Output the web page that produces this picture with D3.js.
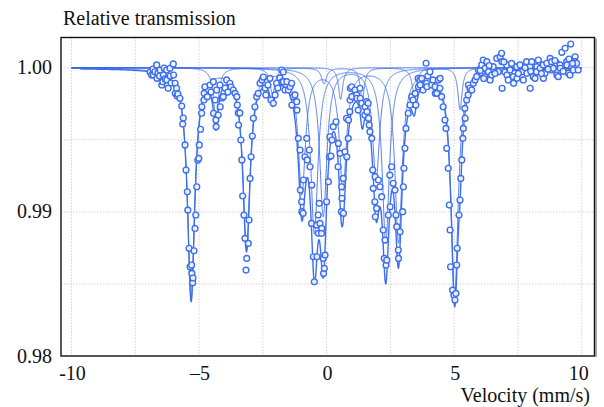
<!DOCTYPE html>
<html><head><meta charset="utf-8">
<script src="https://cdn.jsdelivr.net/npm/d3@7"></script>
<style>html,body{margin:0;padding:0;background:#fff}svg{display:block}
text{font-family:"Liberation Serif","Times New Roman",Times,Tinos,"Nimbus Roman","Nimbus Roman No9 L","FreeSerif","DejaVu Serif","Noto Serif",serif;font-size:20px;fill:#111}</style>
</head><body>
<svg id="chart" width="604" height="407"></svg>
<script>
// measured spectrum: [velocity (mm/s), relative transmission]
const measured = [
[-6.92,0.99970],[-6.86,0.99949],[-6.81,0.99991],[-6.79,0.99949],[-6.73,0.99972],[-6.66,1.00019],[-6.65,0.99926],[-6.61,0.99963],
[-6.53,0.99984],[-6.55,0.99942],[-6.46,0.99880],[-6.42,0.99903],[-6.40,0.99949],[-6.37,0.99998],[-6.33,0.99922],[-6.27,0.99984],
[-6.26,0.99915],[-6.21,0.99857],[-6.14,0.99996],[-6.13,0.99942],[-6.10,0.99894],[-6.01,1.00026],[-6.00,0.99949],[-5.94,0.99892],
[-5.93,0.99822],[-5.88,0.99857],[-5.86,0.99804],[-5.83,0.99818],[-5.75,0.99788],[-5.68,0.99734],[-5.64,0.99609],[-5.62,0.99651],
[-5.55,0.99464],[-5.51,0.99290],[-5.46,0.99139],[-5.44,0.99012],[-5.39,0.98747],[-5.35,0.98619],[-5.29,0.98631],[-5.28,0.98573],
[-5.25,0.98508],[-5.24,0.98541],[-5.20,0.98730],[-5.16,0.98885],[-5.13,0.98978],[-5.09,0.99174],[-5.05,0.99359],[-5.01,0.99371],
[-4.99,0.99464],[-4.94,0.99573],[-4.90,0.99684],[-4.89,0.99729],[-4.81,0.99776],[-4.80,0.99822],[-4.77,0.99868],
[-4.68,0.99799],[-4.57,0.99880],[-4.53,0.99831],[-4.44,0.99903],[-4.43,0.99684],[-4.37,0.99776],[-4.34,0.99637],[-4.33,0.99591],
[-4.31,0.99845],[-4.25,0.99672],[-4.18,0.99880],[-4.17,0.99729],[-4.10,0.99790],[-4.05,0.99799],[-3.98,0.99859],[-3.92,0.99915],
[-3.87,0.99831],[-3.79,0.99892],[-3.75,0.99866],[-3.66,0.99845],[-3.59,0.99822],[-3.52,0.99799],[-3.50,0.99741],[-3.46,0.99686],
[-3.45,0.99602],[-3.40,0.99686],
[-3.36,0.99498],[-3.32,0.99360],[-3.29,0.99110],[-3.24,0.98978],[-3.20,0.98816],[-3.16,0.98596],[-3.13,0.98677],[-3.07,0.98781],
[-3.04,0.98943],[-3.00,0.99232],[-2.96,0.99382],[-2.91,0.99526],[-2.87,0.99649],[-2.81,0.99729],
[-2.74,0.99799],[-2.68,0.99822],[-2.61,0.99892],[-2.53,0.99915],[-2.48,0.99935],[-2.41,0.99859],[-2.38,0.99811],[-2.30,0.99880],
[-2.22,0.99926],[-2.18,0.99776],[-2.09,0.99753],[-2.02,0.99811],[-1.96,0.99892],[-1.91,0.99859],[-1.83,0.99929],[-1.76,0.99984],
[-1.75,0.99901],[-1.70,0.99970],[-1.69,0.99903],[-1.63,0.99845],[-1.56,0.99903],[-1.50,0.99845],[-1.43,0.99868],[-1.37,0.99892],
[-1.36,0.99741],[-1.31,0.99799],[-1.24,0.99811],[-1.17,0.99764],[-1.16,0.99706],
[-1.11,0.99510],[-1.04,0.99429],[-1.03,0.99151],[-0.98,0.99070],[-0.97,0.99001],[-0.91,0.99221],[-0.92,0.98990],[-0.85,0.99382],
[-0.78,0.99510],[-0.76,0.99360],[-0.68,0.99429],[-0.65,0.99313],[-0.58,0.99186],[-0.59,0.98920],[-0.52,0.98688],[-0.48,0.98515],
[-0.39,0.98908],[-0.38,0.98688],[-0.33,0.98978],[-0.32,0.98851],[-0.29,0.99059],[-0.26,0.98920],[-0.19,0.98885],[-0.20,0.98851],
[-0.13,0.98677],[-0.12,0.98573],[-0.09,0.98608],[-0.06,0.98700],[0.00,0.99070],[0.07,0.99209],[0.11,0.99382],[0.17,0.99387],
[0.13,0.99521],[0.21,0.99498],[0.26,0.99591],[0.37,0.99625],[0.46,0.99475],[0.45,0.99313],[0.53,0.99406],[0.59,0.99174],
[0.60,0.99094],[0.58,0.99001],[0.65,0.99232],[0.66,0.98990],[0.72,0.99417],[0.79,0.99382],[0.78,0.99649],[0.85,0.99510],
[0.86,0.99637],[0.92,0.99776],[0.91,0.99695],[0.93,0.99857],[0.98,0.99868],[0.99,0.99799],[1.11,0.99845],[1.18,0.99811],
[1.19,0.99788],[1.24,0.99706],[1.31,0.99857],[1.32,0.99788],[1.38,0.99753],[1.51,0.99729],[1.50,0.99672],[1.57,0.99764],
[1.58,0.99695],[1.63,0.99753],[1.64,0.99649],[1.67,0.99602],[1.70,0.99556],[1.77,0.99510],
[1.81,0.99290],[1.83,0.99163],[1.90,0.99244],[1.89,0.99070],[1.91,0.98966],[1.96,0.99024],[2.03,0.99221],[2.09,0.99174],
[2.16,0.99105],[2.22,0.98874],[2.29,0.98804],[2.26,0.98677],[2.33,0.98631],[2.36,0.98665],[2.42,0.98978],[2.49,0.99035],
[2.48,0.99255],[2.55,0.99313],[2.61,0.99198],[2.68,0.99151],[2.72,0.98978],[2.75,0.98897],[2.81,0.98735],[2.82,0.98677],
[2.88,0.98862],[2.98,0.99001],[3.01,0.99174],[3.03,0.99302],[3.07,0.99441],[3.11,0.99579],[3.20,0.99684],[3.27,0.99741],
[3.34,0.99799],[3.39,0.99776],[3.47,0.99822],[3.50,0.99741],[3.59,0.99926],[3.60,0.99868],[3.66,0.99915],[3.67,0.99880],
[3.73,0.99926],[3.78,0.99845],[3.90,1.00031],[3.92,0.99892],[3.93,0.99868],[3.97,0.99942],[4.05,0.99972],[4.12,0.99880],
[4.17,0.99915],[4.25,0.99868],[4.26,0.99822],[4.32,0.99822],[4.38,0.99915],[4.45,0.99926],[4.44,0.99857],[4.51,0.99799],
[4.57,0.99729],[4.64,0.99637],[4.68,0.99579],
[4.71,0.99441],[4.77,0.99302],[4.81,0.99047],[4.84,0.98874],[4.86,0.98619],[4.94,0.98457],[4.99,0.98423],[5.03,0.98388],
[5.07,0.98434],[5.10,0.98631],[5.12,0.98747],[5.19,0.98978],[5.23,0.99082],[5.26,0.99232],[5.30,0.99360],[5.34,0.99510],
[5.36,0.99579],[5.43,0.99649],[5.42,0.99718],[5.49,0.99776],[5.55,0.99811],[5.56,0.99880],[5.62,0.99857],[5.69,0.99845],
[5.75,0.99892],[5.82,0.99915],[5.88,0.99938],[5.95,0.99984],
[6.08,1.00019],[6.09,0.99961],[6.14,1.00053],[6.21,0.99996],[6.20,0.99938],[6.28,1.00042],[6.34,0.99972],[6.41,0.99915],
[6.47,0.99949],[6.53,1.00007],[6.67,1.00065],[6.73,0.99972],[6.80,1.00076],[6.86,1.00100],[6.87,1.00042],[6.88,0.99857],
[6.99,0.99970],[7.06,1.00019],[7.07,0.99949],[7.12,0.99915],[7.19,0.99984],[7.32,0.99938],[7.33,0.99892],[7.45,1.00007],
[7.46,0.99926],[7.58,1.00019],[7.65,0.99972],[7.71,0.99915],[7.84,1.00042],[7.85,0.99961],[7.97,1.00007],[7.98,0.99857],
[8.04,1.00042],[8.10,0.99938],[8.17,0.99926],[8.24,1.00007],[8.23,0.99972],[8.30,1.00053],[8.37,0.99996],[8.49,1.00019],
[8.50,0.99926],[8.56,0.99961],[8.63,1.00031],[8.76,1.00065],[8.82,1.00042],[8.83,0.99984],[8.89,0.99996],[9.02,1.00031],
[9.03,0.99949],[9.08,0.99938],[9.15,1.00019],[9.16,0.99996],[9.22,1.00107],[9.35,1.00135],[9.41,1.00042],[9.42,1.00019],
[9.48,0.99961],[9.54,0.99949],[9.57,1.00164],[9.61,1.00007],[9.67,0.99984],[9.74,1.00076],[9.73,1.00042],[9.80,1.00031],
[9.86,0.99984],
[6.02,0.99980],[6.16,0.99925],[6.37,1.00015],[6.60,0.99960],[6.95,1.00040],[7.25,1.00030],[7.52,0.99960],[7.78,1.00000],
[8.00,0.99975],[8.42,0.99960],[8.68,0.99990],[8.95,1.00050],[9.27,0.99975],[9.50,1.00060],[9.64,1.00030]
];

// fitted sub-spectra: each line = [position (mm/s), depth, half width (mm/s)]
const sextetMain = [[-5.31,0.0160,0.17],[-3.14,0.0124,0.17],[-0.97,0.0086,0.17],[0.64,0.0083,0.17],[2.82,0.0120,0.17],[5.02,0.0158,0.17]];
const doubletA   = [[-0.48,0.0115,0.17],[2.32,0.0121,0.17]];
const doubletB   = [[-0.13,0.0103,0.17],[1.94,0.0077,0.17]];
const sextetWeak = [[-4.34,0.0035,0.12],[-2.12,0.0018,0.12],[-0.10,0.0011,0.12],[1.40,0.0022,0.10],[3.44,0.0018,0.12],[5.23,0.0029,0.10]];
const singletWeak = [[0.55,0.0022,0.10]];
const subspectra = [sextetMain, doubletA, doubletB, sextetWeak, singletWeak];
const fitBaseline = 0.99997;
const fitRange = [-9.65, 9.9];

const xTicks = [-10, -5, 0, 5, 10];
const xTickLabels = ["-10", "\u20135", "0", "5", "10"];
const yTicks = [0.98, 0.99, 1.00];
const yTickLabels = ["0.98", "0.99", "1.00"];
const xGrid = [-10, -7.5, -5, -2.5, 0, 2.5, 5, 7.5, 10];
const yGrid = [0.985, 0.99, 0.995, 1.00];

const svg = d3.select("#chart");
const blue = "#3d6ef2";

const frame = {left: 61, top: 37.5, right: 594.5, bottom: 356};
const x = d3.scaleLinear().domain([-10, 10]).range([71.5, 581.7]);
const y = d3.scaleLinear().domain([0.98, 1.00]).range([356, 67.7]);

// grid
svg.append("g").selectAll("line").data(xGrid).join("line")
  .attr("x1", d => x(d)).attr("x2", d => x(d))
  .attr("y1", frame.top).attr("y2", frame.bottom)
  .attr("stroke", "#c8c8c8").attr("stroke-width", 0.8).attr("stroke-dasharray", "1.5,1.5");
svg.append("g").selectAll("line").data(yGrid).join("line")
  .attr("x1", frame.left).attr("x2", frame.right)
  .attr("y1", d => y(d)).attr("y2", d => y(d))
  .attr("stroke", "#c8c8c8").attr("stroke-width", 0.8).attr("stroke-dasharray", "1.5,1.5");

// curves
const lor = (v, lines) => lines.reduce((s, [p, dp, g]) => s + dp * g * g / ((v - p) * (v - p) + g * g), 0);
const sample = (a, b) => d3.range(a, b + 1e-9, 0.004);
const line = d3.line().x(d => x(d[0])).y(d => y(d[1]));

const curves = svg.append("g").attr("fill", "none").attr("stroke", blue);
subspectra.forEach(lines => {
  curves.append("path")
    .attr("d", line(sample(-10, 10).map(v => [v, 1 - lor(v, lines)])))
    .attr("stroke-width", 0.9);
});
const allLines = subspectra.flat();
curves.append("path")
  .attr("d", line(sample(fitRange[0], fitRange[1]).map(v => [v, fitBaseline - lor(v, allLines)])))
  .attr("stroke-width", 1.4);

// points
svg.append("g").selectAll("circle").data(measured).join("circle")
  .attr("cx", d => x(d[0])).attr("cy", d => y(d[1])).attr("r", 2.9)
  .attr("fill", "#fff").attr("fill-opacity", 0.85)
  .attr("stroke", blue).attr("stroke-width", 1.4);

// frame
svg.append("rect").attr("x", frame.left).attr("y", frame.top)
  .attr("width", frame.right - frame.left).attr("height", frame.bottom - frame.top)
  .attr("fill", "none").attr("stroke", "#111").attr("stroke-width", 1.4);
svg.append("line").attr("x1", frame.right + 1.5).attr("x2", frame.right + 1.5)
  .attr("y1", frame.top + 1).attr("y2", frame.bottom + 1)
  .attr("stroke", "#888").attr("stroke-width", 1.5);

// axis labels
svg.append("g").selectAll("text").data(yTicks).join("text")
  .attr("x", 52).attr("y", d => y(d) + 6.5).attr("text-anchor", "end")
  .text((d, i) => yTickLabels[i]);
svg.append("g").selectAll("text").data(xTicks).join("text")
  .attr("x", d => x(d) + (d === 10 ? -3 : 1)).attr("y", 380).attr("text-anchor", "middle")
  .text((d, i) => xTickLabels[i]);

svg.append("text").attr("x", 63).attr("y", 25)
  .text("Relative transmission");
svg.append("text").attr("x", 590).attr("y", 402).attr("text-anchor", "end")
  .text("Velocity (mm/s)");
</script>
</body></html>
